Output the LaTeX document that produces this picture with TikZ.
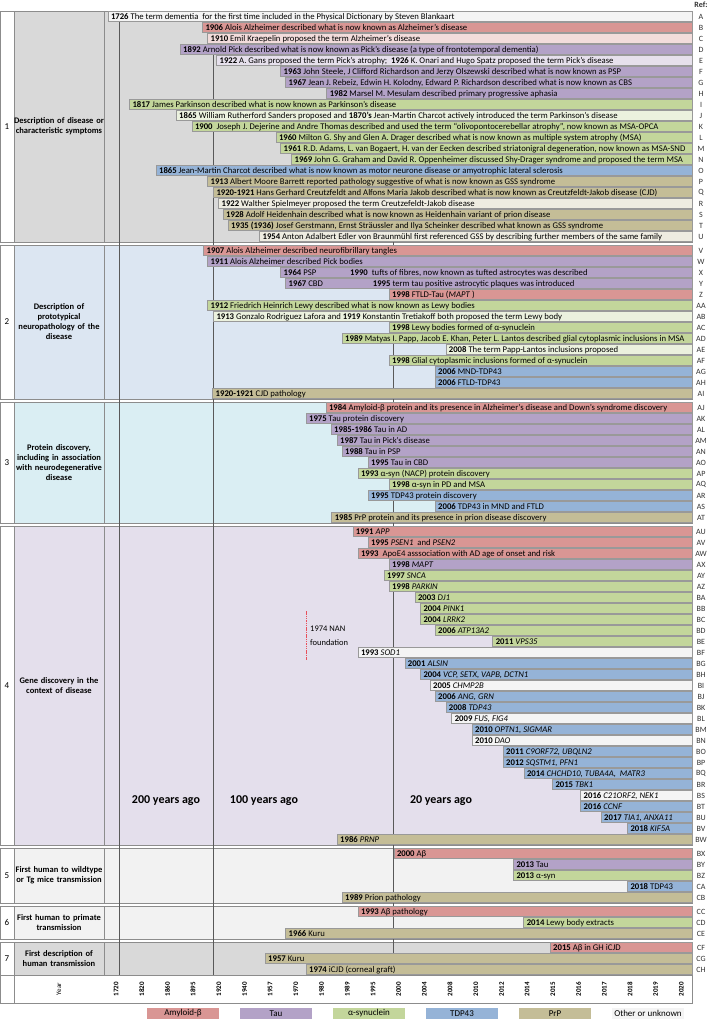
\documentclass[tikz,border=0pt]{standalone}
\usepackage{fontspec}
\setmainfont{Carlito}
\usetikzlibrary{positioning,calc}

\definecolor{amy}{HTML}{D99694}
\definecolor{amyl}{HTML}{F2DCDB}
\definecolor{tau}{HTML}{B3A2C7}
\definecolor{taul}{HTML}{E6E0EC}
\definecolor{syn}{HTML}{C3D69B}
\definecolor{synl}{HTML}{EBF1DE}
\definecolor{tdp}{HTML}{95B3D7}
\definecolor{prp}{HTML}{C4BD97}
\definecolor{prpl}{HTML}{EEECE1}
\definecolor{oth}{HTML}{F4F4F4}
\definecolor{secA}{HTML}{D9D9D9}
\definecolor{secB}{HTML}{DCE6F2}
\definecolor{secC}{HTML}{DAEEF3}
\definecolor{secD}{HTML}{E4DFEC}
\definecolor{secE}{HTML}{F2F2F2}
\definecolor{nanred}{HTML}{E8505B}

\tikzset{
  secframe/.style={draw=black!45,line width=0.5pt},
  barline/.style={draw=black!40,line width=0.4pt},
  bartext/.style={anchor=base west,inner sep=0pt,font=\fontsize{8.7}{10}\selectfont},
  reftext/.style={inner sep=0pt,text=black!80,font=\fontsize{8}{9}\selectfont},
  seclabel/.style={align=center,text width=90pt,inner sep=0pt,font=\fontsize{8.5}{10}\selectfont\bfseries},
  secnum/.style={inner sep=0pt,font=\fontsize{9}{10}\selectfont},
  era/.style={inner sep=0pt,font=\fontsize{12}{14}\selectfont\bfseries},
  yearlab/.style={rotate=90,inner sep=0pt,font=\fontsize{7}{8}\selectfont\bfseries},
  legbox/.style={minimum width=72pt,minimum height=11pt,inner sep=0pt,font=\fontsize{9}{10}\selectfont},
  timeline/.style={draw=black!65,line width=0.5pt}
}

\newcommand{\evbar}[6]{%
  \pgfmathsetmacro{\ytop}{11+(#1-1)*11+(#2-1)*3}
  \filldraw[barline,fill=#4] (#3,\ytop+0.4) rectangle (692,\ytop+10.6);
  \node[bartext] (bar#6) at (#3+3,\ytop+8.3) {#5};
  \node[reftext] (ref#6) at (701,\ytop+5.5) {#6};
}

\begin{document}
\begin{tikzpicture}[x=1pt,y=-1pt]
  \useasboundingbox[fill=white] (0,0) rectangle (709,1020);

  \foreach \s/\first/\n/\col/\lab in {
      1/1/21/secA/{Description of disease or\\characteristic symptoms},
      2/22/14/secB/{Description of\\prototypical\\neuropathology of the\\disease},
      3/36/11/secC/{Protein discovery,\\including in association\\with neurodegenerative\\disease},
      4/47/29/secD/{Gene discovery in the\\context of disease},
      5/76/5/secE/{First human to wildtype\\or Tg mice transmission},
      6/81/3/secE/{First human to primate\\transmission},
      7/84/3/secA/{First description of\\human transmission}} {
    \pgfmathsetmacro{\secy}{11+(\first-1)*11+(\s-1)*3}
    \pgfmathsetmacro{\secb}{\secy+\n*11}
    \draw[secframe] (0,\secy) rectangle (14,\secb);
    \draw[secframe,fill=\col] (14,\secy) rectangle (104,\secb);
    \draw[secframe,fill=\col] (104,\secy) rectangle (692,\secb);
    \node[secnum] (num\s) at (7,{(\secy+\secb)/2}) {\s};
    \node[seclabel] (lab\s) at (59,{(\secy+\secb)/2}) {\lab};
  }

  \foreach \x in {119.5,213,393}
    \draw[timeline] (\x,11) -- (\x,975);

  \evbar{1}{1}{107.8}{oth}{\textbf{1726} The term dementia\ \ for the first time included in the Physical Dictionary by Steven Blankaart}{A}
  \evbar{2}{1}{202.3}{amy}{\textbf{1906} Alois Alzheimer described what is now known as Alzheimer's disease}{B}
  \evbar{3}{1}{207.4}{amyl}{\textbf{1910} Emil Kraepelin proposed the term Alzheimer's disease}{C}
  \evbar{4}{1}{180}{tau}{\textbf{1892} Arnold Pick described what is now known as Pick's disease (a type of frontotemporal dementia)}{D}
  \evbar{5}{1}{216.4}{taul}{\textbf{1922} A. Gans proposed the term Pick's atrophy;\ \ \textbf{1926} K. Onari and Hugo Spatz proposed the term Pick's disease}{E}
  \evbar{6}{1}{280.5}{tau}{\textbf{1963} John Steele, J Clifford Richardson and Jerzy Olszewski described what is now known as PSP}{F}
  \evbar{7}{1}{285.5}{tau}{\textbf{1967} Jean J. Rebeiz, Edwin H. Kolodny, Edward P. Richardson described what is now known as CBS}{G}
  \evbar{8}{1}{326.6}{tau}{\textbf{1982} Marsel M. Mesulam described primary progressive aphasia}{H}
  \evbar{9}{1}{129.3}{syn}{\textbf{1817} James Parkinson described what is now known as Parkinson's disease}{I}
  \evbar{10}{1}{176}{synl}{\textbf{1865} William Rutherford Sanders proposed and \textbf{1870's} Jean-Martin Charcot actively introduced the term Parkinson's disease}{J}
  \evbar{11}{1}{191.8}{syn}{\textbf{1900}\ \ Joseph J. Dejerine and Andre Thomas described and used the term ``olivopontocerebellar atrophy'', now known as MSA-OPCA}{K}
  \evbar{12}{1}{275.8}{syn}{\textbf{1960} Milton G. Shy and Glen A. Drager described what is now known as multiple system atrophy (MSA)}{L}
  \evbar{13}{1}{280.5}{syn}{\textbf{1961} R.D. Adams, L. van Bogaert, H. van der Eecken described striatonigral degeneration, now known as MSA-SND}{M}
  \evbar{14}{1}{291.4}{syn}{\textbf{1969} John G. Graham and David R. Oppenheimer discussed Shy-Drager syndrome and proposed the term MSA}{N}
  \evbar{15}{1}{155.9}{tdp}{\textbf{1865} Jean-Martin Charcot described what is now known as motor neurone disease or amyotrophic lateral sclerosis}{O}
  \evbar{16}{1}{207.4}{prp}{\textbf{1913} Albert Moore Barrett reported pathology suggestive of what is now known as GSS syndrome}{P}
  \evbar{17}{1}{213.3}{prp}{\textbf{1920-1921} Hans Gerhard Creutzfeldt and Alfons Maria Jakob described what is now known as Creutzfeldt-Jakob disease (CJD)}{Q}
  \evbar{18}{1}{218.4}{prpl}{\textbf{1922} Walther Spielmeyer proposed the term Creutzefeldt-Jakob disease}{R}
  \evbar{19}{1}{223}{prp}{\textbf{1928} Adolf Heidenhain described what is now known as Heidenhain variant of prion disease}{S}
  \evbar{20}{1}{228}{prp}{\textbf{1935 (1936)} Josef Gerstmann, Ernst Sträussler and Ilya Scheinker described what known as GSS syndrome}{T}
  \evbar{21}{1}{259.4}{prpl}{\textbf{1954} Anton Adalbert Edler von Braunmühl first referenced GSS by describing further members of the same family}{U}

  \evbar{22}{2}{203.5}{amy}{\textbf{1907} Alois Alzheimer described neurofibrillary tangles}{V}
  \evbar{23}{2}{207.4}{tau}{\textbf{1911} Alois Alzheimer described Pick bodies}{W}
  \evbar{24}{2}{280.5}{tau}{\textbf{1964} PSP}{X}
  \node[bartext] (barXb) at (350,\ytop+8.3) {\textbf{1990}\ \ tufts of fibres, now known as tufted astrocytes was described};
  \evbar{25}{2}{285.5}{tau}{\textbf{1967} CBD}{Y}
  \node[bartext] (barYb) at (372.7,\ytop+8.3) {\textbf{1995} term tau positive astrocytic plaques was introduced};
  \evbar{26}{2}{389}{amy}{\textbf{1998} FTLD-Tau (\textit{MAPT} )}{Z}
  \evbar{27}{2}{207.4}{syn}{\textbf{1912} Friedrich Heinrich Lewy described what is now known as Lewy bodies}{AA}
  \evbar{28}{2}{213.3}{synl}{\textbf{1913} Gonzalo Rodriguez Lafora and \textbf{1919} Konstantin Tretiakoff both proposed the term Lewy body}{AB}
  \evbar{29}{2}{389}{syn}{\textbf{1998} Lewy bodies formed of α-synuclein}{AC}
  \evbar{30}{2}{342}{syn}{\textbf{1989} Matyas I. Papp, Jacob E. Khan, Peter L. Lantos described glial cytoplasmic inclusions in MSA}{AD}
  \evbar{31}{2}{445.7}{synl}{\textbf{2008} The term Papp-Lantos inclusions proposed}{AE}
  \evbar{32}{2}{389}{syn}{\textbf{1998} Glial cytoplasmic inclusions formed of α-synuclein}{AF}
  \evbar{33}{2}{435}{tdp}{\textbf{2006} MND-TDP43}{AG}
  \evbar{34}{2}{435}{tdp}{\textbf{2006} FTLD-TDP43}{AH}
  \evbar{35}{2}{212.5}{prp}{\textbf{1920-1921} CJD pathology}{AI}

  \evbar{36}{3}{325.8}{amy}{\textbf{1984} Amyloid-β protein and its presence in Alzheimer's disease and Down's syndrome discovery}{AJ}
  \evbar{37}{3}{305.9}{tau}{\textbf{1975} Tau protein discovery}{AK}
  \evbar{38}{3}{331}{tau}{\textbf{1985-1986} Tau in AD}{AL}
  \evbar{39}{3}{337}{tau}{\textbf{1987} Tau in Pick's disease}{AM}
  \evbar{40}{3}{342}{tau}{\textbf{1988} Tau in PSP}{AN}
  \evbar{41}{3}{368}{tau}{\textbf{1995} Tau in CBD}{AO}
  \evbar{42}{3}{357.8}{syn}{\textbf{1993} α-syn (NACP) protein discovery}{AP}
  \evbar{43}{3}{389}{syn}{\textbf{1998} α-syn in PD and MSA}{AQ}
  \evbar{44}{3}{368}{tdp}{\textbf{1995} TDP43 protein discovery}{AR}
  \evbar{45}{3}{435}{tdp}{\textbf{2006} TDP43 in MND and FTLD}{AS}
  \evbar{46}{3}{331.6}{prp}{\textbf{1985} PrP protein and its presence in prion disease discovery}{AT}

  \evbar{47}{4}{352.7}{amy}{\textbf{1991} \textit{APP}}{AU}
  \evbar{48}{4}{368}{amy}{\textbf{1995} \textit{PSEN1}\ \ and \textit{PSEN2}}{AV}
  \evbar{49}{4}{357.8}{amy}{\textbf{1993}\ \ ApoE4 asssociation with AD age of onset and risk}{AW}
  \evbar{50}{4}{389}{tau}{\textbf{1998} \textit{MAPT}}{AX}
  \evbar{51}{4}{384}{syn}{\textbf{1997} \textit{SNCA}}{AY}
  \evbar{52}{4}{389}{syn}{\textbf{1998} \textit{PARKIN}}{AZ}
  \evbar{53}{4}{414.8}{syn}{\textbf{2003} \textit{DJ1}}{BA}
  \evbar{54}{4}{420.3}{syn}{\textbf{2004} \textit{PINK1}}{BB}
  \evbar{55}{4}{420.3}{syn}{\textbf{2004} \textit{LRRK2}}{BC}
  \evbar{56}{4}{435}{syn}{\textbf{2006} \textit{ATP13A2}}{BD}
  \evbar{57}{4}{492.6}{syn}{\textbf{2011} \textit{VPS35}}{BE}
  \evbar{58}{4}{357.8}{oth}{\textbf{1993} \textit{SOD1}}{BF}
  \evbar{59}{4}{404.7}{tdp}{\textbf{2001} \textit{ALSIN}}{BG}
  \evbar{60}{4}{420.3}{tdp}{\textbf{2004} \textit{VCP, SETX, VAPB, DCTN1}}{BH}
  \evbar{61}{4}{430}{oth}{\textbf{2005} \textit{CHMP2B}}{BI}
  \evbar{62}{4}{435}{tdp}{\textbf{2006} \textit{ANG, GRN}}{BJ}
  \evbar{63}{4}{445.7}{tdp}{\textbf{2008} \textit{TDP43}}{BK}
  \evbar{64}{4}{451.6}{oth}{\textbf{2009} \textit{FUS, FIG4}}{BL}
  \evbar{65}{4}{471.9}{tdp}{\textbf{2010} \textit{OPTN1, SIGMAR}}{BM}
  \evbar{66}{4}{471.9}{oth}{\textbf{2010} \textit{DAO}}{BN}
  \evbar{67}{4}{503}{tdp}{\textbf{2011} \textit{C9ORF72, UBQLN2}}{BO}
  \evbar{68}{4}{503}{tdp}{\textbf{2012} \textit{SQSTM1, PFN1}}{BP}
  \evbar{69}{4}{523.8}{tdp}{\textbf{2014} \textit{CHCHD10, TUBA4A,\ \ MATR3}}{BQ}
  \evbar{70}{4}{552.3}{tdp}{\textbf{2015} \textit{TBK1}}{BR}
  \evbar{71}{4}{580.5}{oth}{\textbf{2016} \textit{C21ORF2, NEK1}}{BS}
  \evbar{72}{4}{580.5}{tdp}{\textbf{2016} \textit{CCNF}}{BT}
  \evbar{73}{4}{601}{tdp}{\textbf{2017} \textit{TIA1, ANXA11}}{BU}
  \evbar{74}{4}{627.3}{tdp}{\textbf{2018} \textit{KIF5A}}{BV}
  \evbar{75}{4}{337}{prp}{\textbf{1986} \textit{PRNP}}{BW}

  \evbar{76}{5}{393.8}{amy}{\textbf{2000} Aβ}{BX}
  \evbar{77}{5}{513.3}{tau}{\textbf{2013} Tau}{BY}
  \evbar{78}{5}{513.3}{syn}{\textbf{2013} α-syn}{BZ}
  \evbar{79}{5}{627.3}{tdp}{\textbf{2018} TDP43}{CA}
  \evbar{80}{5}{342}{prp}{\textbf{1989} Prion pathology}{CB}

  \evbar{81}{6}{358}{amy}{\textbf{1993} Aβ pathology}{CC}
  \evbar{82}{6}{523.6}{syn}{\textbf{2014} Lewy body extracts}{CD}
  \evbar{83}{6}{285.5}{prp}{\textbf{1966} Kuru}{CE}

  \evbar{84}{7}{550}{amy}{\textbf{2015} Aβ in GH iCJD}{CF}
  \evbar{85}{7}{265}{prp}{\textbf{1957} Kuru}{CG}
  \evbar{86}{7}{306}{prp}{\textbf{1974} iCJD (corneal graft)}{CH}

  \node[reftext,font=\fontsize{8}{9}\selectfont\bfseries] (reftitle) at (701,5) {Ref:};

  \coordinate (nantop) at (306,611);
  \coordinate (nanbot) at (306,660);
  \draw[nanred,line width=0.8pt,dash pattern=on 1.5pt off 0.8pt] (nantop) -- (nanbot);
  \node[bartext,anchor=west,align=left,font=\fontsize{8.5}{14}\selectfont,right=4pt of $(nantop)!0.5!(nanbot)$] (nan) {1974 NAN\\foundation};

  \node[era] (era200) at (166,801) {200 years ago};
  \node[era] (era100) at (264,801) {100 years ago};
  \node[era] (era20) at (441,801) {20 years ago};

  \draw[secframe] (0,975) rectangle (692,1003);
  \draw[secframe] (14,975) -- (14,1003);
  \node[yearlab,font=\fontsize{7}{8}\selectfont] (yearhead) at (59,989) {Year};
  \foreach \yr [count=\i from 0] in {1720,1820,1860,1895,1920,1940,1957,1970,1980,1989,1995,2000,2004,2008,2010,2012,2014,2015,2016,2017,2018,2019,2020}
    \node[yearlab] (yr\yr) at ({116+25.7*\i},989) {\yr};

  \foreach \c/\t [count=\i from 0] in {amy/Amyloid-β,tau/Tau,syn/α-synuclein,tdp/TDP43,prp/PrP,oth/Other or unknown}
    \node[legbox,fill=\c] (leg\i) at ({183+93*\i},1013.5) {\t};
\end{tikzpicture}
\end{document}
